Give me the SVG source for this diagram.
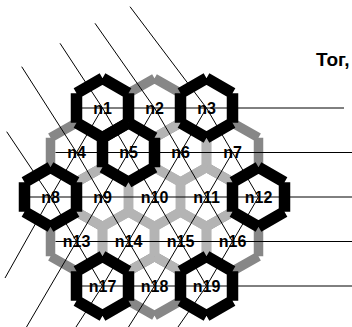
<svg xmlns="http://www.w3.org/2000/svg" xmlns:xlink="http://www.w3.org/1999/xlink" width="352" height="327" viewBox="0 0 352 327">
  <style>
    .hx { fill: none; stroke-linecap: butt; }
    .blk { stroke: #000000; stroke-width: 11.5; }
    .drk { stroke: #878787; stroke-width: 9.5; }
    .lgt { stroke: #b4b4b4; stroke-width: 9.5; }
    .lbl { font-family: "Liberation Sans", Arial, sans-serif; font-size: 16px; font-weight: bold; fill: #000; text-anchor: middle; }
    .ln { fill: none; stroke: #000; stroke-width: 1; }
    .title { font-family: "Liberation Sans", Arial, sans-serif; font-size: 19px; font-weight: bold; fill: #000; }
  </style>
  <defs>
    <!-- hexagon drawn edge by edge so each side keeps butt ends -->
    <path id="hex" class="hx" d="M0,-29.67 L26,-14.83 M26,-14.83 L26,14.83 M26,14.83 L0,29.67 M0,29.67 L-26,14.83 M-26,14.83 L-26,-14.83 M-26,-14.83 L0,-29.67"/>
  </defs>
  <rect width="352" height="327" fill="#ffffff"/>

  <text class="title" x="316" y="66">Тог,</text>

  <!-- dark grey cells -->
  <g id="n2"><use xlink:href="#hex" class="drk" x="154.5" y="108"/><text class="lbl" x="154.5" y="113.5">n2</text></g>
  <g id="n4"><use xlink:href="#hex" class="drk" x="76.5" y="152.5"/><text class="lbl" x="76.5" y="158">n4</text></g>
  <g id="n7"><use xlink:href="#hex" class="drk" x="232.5" y="152.5"/><text class="lbl" x="232.5" y="158">n7</text></g>
  <g id="n13"><use xlink:href="#hex" class="drk" x="76.5" y="241.5"/><text class="lbl" x="76.5" y="247">n13</text></g>
  <g id="n16"><use xlink:href="#hex" class="drk" x="232.5" y="241.5"/><text class="lbl" x="232.5" y="247">n16</text></g>
  <g id="n18"><use xlink:href="#hex" class="drk" x="154.5" y="286"/><text class="lbl" x="154.5" y="291.5">n18</text></g>

  <!-- light grey cells -->
  <g id="n6"><use xlink:href="#hex" class="lgt" x="180.5" y="152.5"/><text class="lbl" x="180.5" y="158">n6</text></g>
  <g id="n9"><use xlink:href="#hex" class="lgt" x="102.5" y="197"/><text class="lbl" x="102.5" y="202.5">n9</text></g>
  <g id="n10"><use xlink:href="#hex" class="lgt" x="154.5" y="197"/><text class="lbl" x="154.5" y="202.5">n10</text></g>
  <g id="n11"><use xlink:href="#hex" class="lgt" x="206.5" y="197"/><text class="lbl" x="206.5" y="202.5">n11</text></g>
  <g id="n14"><use xlink:href="#hex" class="lgt" x="128.5" y="241.5"/><text class="lbl" x="128.5" y="247">n14</text></g>
  <g id="n15"><use xlink:href="#hex" class="lgt" x="180.5" y="241.5"/><text class="lbl" x="180.5" y="247">n15</text></g>

  <!-- black cells -->
  <g id="n1"><use xlink:href="#hex" class="blk" x="102.5" y="108"/><text class="lbl" x="102.5" y="113.5">n1</text></g>
  <g id="n3"><use xlink:href="#hex" class="blk" x="206.5" y="108"/><text class="lbl" x="206.5" y="113.5">n3</text></g>
  <g id="n5"><use xlink:href="#hex" class="blk" x="128.5" y="152.5"/><text class="lbl" x="128.5" y="158">n5</text></g>
  <g id="n8"><use xlink:href="#hex" class="blk" x="50.5" y="197"/><text class="lbl" x="50.5" y="202.5">n8</text></g>
  <g id="n12"><use xlink:href="#hex" class="blk" x="258.5" y="197"/><text class="lbl" x="258.5" y="202.5">n12</text></g>
  <g id="n17"><use xlink:href="#hex" class="blk" x="102.5" y="286"/><text class="lbl" x="102.5" y="291.5">n17</text></g>
  <g id="n19"><use xlink:href="#hex" class="blk" x="206.5" y="286"/><text class="lbl" x="206.5" y="291.5">n19</text></g>

  <g id="connectors">
    <!-- rows, running out to the right -->
    <line class="ln" x1="81.5" y1="108" x2="344" y2="108"/>
    <line class="ln" x1="55.5" y1="152.5" x2="352" y2="152.5"/>
    <line class="ln" x1="29.5" y1="197" x2="352" y2="197"/>
    <line class="ln" x1="55.5" y1="241.5" x2="352" y2="241.5"/>
    <line class="ln" x1="81.5" y1="286" x2="352" y2="286"/>
    <!-- falling diagonals, running out to the upper left -->
    <polyline class="ln" points="6.7,131.7 50.5,197 102.5,286"/>
    <polyline class="ln" points="21.7,66.7 76.5,152.5 154.5,286"/>
    <polyline class="ln" points="60,43.3 102.5,108 206.5,286"/>
    <polyline class="ln" points="95,23.3 154.5,108 232.5,241.5"/>
    <polyline class="ln" points="130,6.7 206.5,108 258.5,197"/>
    <!-- rising diagonals, running out to the lower left -->
    <polyline class="ln" points="5,278 50.5,197 102.5,108"/>
    <polyline class="ln" points="26.5,327 76.5,241.5 154.5,108"/>
    <polyline class="ln" points="76,327 102.5,286 206.5,108"/>
    <polyline class="ln" points="128.5,327 154.5,286 232.5,152.5"/>
    <polyline class="ln" points="178,327 206.5,286 258.5,197"/>
  </g>
</svg>
